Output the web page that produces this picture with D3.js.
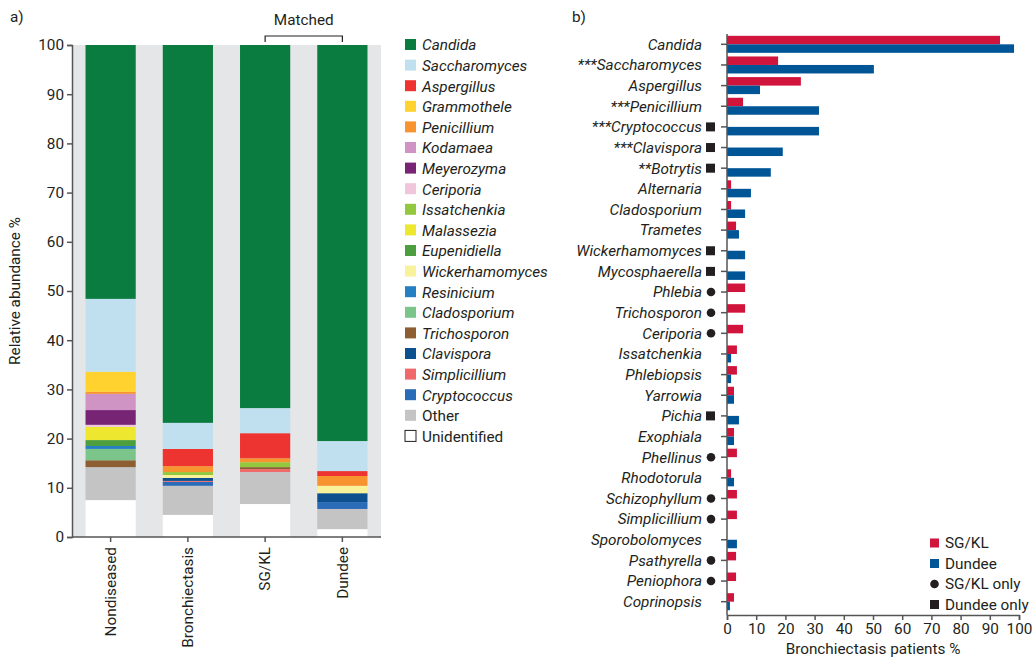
<!DOCTYPE html>
<html><head><meta charset="utf-8">
<script src="https://cdn.jsdelivr.net/npm/d3@7"></script>
<style>body{margin:0;background:#fff}text{font-family:Roboto,"Open Sans",sans-serif;fill:#231f20}</style>
</head><body><svg id="c" width="1032" height="657"></svg>
<script>
const groups=["Nondiseased","Bronchiectasis","SG/KL","Dundee"];
const taxa=["Candida","Saccharomyces","Aspergillus","Grammothele","Penicillium","Kodamaea","Meyerozyma","Ceriporia","Issatchenkia","Malassezia","Eupenidiella","Wickerhamomyces","Resinicium","Cladosporium","Trichosporon","Clavispora","Simplicillium","Cryptococcus","Other","Unidentified"];
const taxaColors=["#0b7c40","#c0e0ef","#ee3430","#ffd22f","#f7942f","#cf93c4","#772475","#f0c6dd","#93c83e","#ede72f","#4c9e3f","#f8f29a","#2580c3","#7bc58a","#8d5e32","#0e4f8e","#f0686a","#2a6cb8","#c3c4c3","#ffffff"];
const nondiseased={Unidentified:7.5,Other:6.7,Trichosporon:1.4,Cladosporium:2.3,Resinicium:0.6,Eupenidiella:1.2,Malassezia:2.7,Ceriporia:0.4,Meyerozyma:3.0,Kodamaea:3.3,Penicillium:0.4,Grammothele:4.1,Saccharomyces:14.8,Candida:51.6};
const bronchiectasis={Unidentified:4.5,Other:5.9,Cryptococcus:0.8,Simplicillium:0.2,Clavispora:0.6,Wickerhamomyces:0.6,Issatchenkia:0.6,Penicillium:1.2,Aspergillus:3.5,Saccharomyces:5.3,Candida:76.8};
const sgkl={Unidentified:6.7,Other:6.5,Simplicillium:0.6,Trichosporon:0.4,Issatchenkia:1.0,Penicillium:0.8,Aspergillus:5.1,Saccharomyces:5.1,Candida:73.8};
const dundee={Unidentified:1.6,Other:4.1,Cryptococcus:1.4,Clavispora:1.8,Wickerhamomyces:1.5,Penicillium:2.0,Aspergillus:1.0,Saccharomyces:6.1,Candida:80.5};
const abund=[nondiseased,bronchiectasis,sgkl,dundee];

const genera=["Candida","***Saccharomyces","Aspergillus","***Penicillium","***Cryptococcus","***Clavispora","**Botrytis","Alternaria","Cladosporium","Trametes","Wickerhamomyces","Mycosphaerella","Phlebia","Trichosporon","Ceriporia","Issatchenkia","Phlebiopsis","Yarrowia","Pichia","Exophiala","Phellinus","Rhodotorula","Schizophyllum","Simplicillium","Sporobolomyces","Psathyrella","Peniophora","Coprinopsis"];
const marks=["","","","","sq","sq","sq","","","","sq","sq","ci","ci","ci","","","","sq","","ci","","ci","ci","","ci","ci",""];
const sgklPct=[93.5,17.5,25.3,5.5,0,0,0,1.4,1.4,3.1,0,0,6.2,6.2,5.5,3.4,3.4,2.4,0,2.4,3.4,1.4,3.4,3.4,0,3.1,3.1,2.4];
const dundeePct=[98.3,50.3,11.3,31.5,31.5,19.1,15.0,8.2,6.2,4.1,6.2,6.2,0,0,0,1.4,1.4,2.4,4.1,2.4,0,2.4,0,0,3.4,0,0,1.0];
const xTicks=d3.range(0,101,10);

const FS=15.3;
const svg=d3.select("#c");
const xa=d3.scaleBand().domain(groups).range([72,381]).paddingInner(0.35).paddingOuter(0.175);
const ya=d3.scaleLinear().domain([0,100]).range([537,45]);
svg.append("rect").attr("x",72).attr("y",45).attr("width",309).attr("height",492).attr("fill","#e5e6e8");
const order=taxa.slice().reverse();
groups.forEach((g,i)=>{let acc=0;order.forEach(t=>{const v=abund[i][t]||0;if(!v)return;
 svg.append("rect").attr("x",xa(g)).attr("width",xa.bandwidth()).attr("y",ya(acc+v)).attr("height",ya(acc)-ya(acc+v)).attr("fill",taxaColors[taxa.indexOf(t)]);acc+=v;});});
const ay=svg.append("g").attr("transform","translate(72,0)").call(d3.axisLeft(ya).ticks(10).tickSize(5));
const ax=svg.append("g").attr("transform","translate(0,537)").call(d3.axisBottom(xa).tickSize(5));
[ay,ax].forEach(a=>{a.selectAll("path,line").attr("stroke","#555").attr("stroke-width",1.5);a.selectAll("text").attr("font-size",FS).attr("fill","#231f20");});
ax.select(".domain").attr("d","M72,0H381");
ax.selectAll("text").attr("transform","rotate(-90)").attr("text-anchor","end").attr("dy","0.35em").attr("x",-10).attr("y",0);
svg.append("text").attr("transform","translate(20,291) rotate(-90)").attr("text-anchor","middle").attr("font-size",FS).text("Relative abundance %");
svg.append("text").attr("x",10).attr("y",22).attr("font-size",FS).text("a)");
const m1=xa("SG/KL")+xa.bandwidth()/2,m2=xa("Dundee")+xa.bandwidth()/2;
svg.append("path").attr("d",`M${m1},42V36H${m2}V42`).attr("fill","none").attr("stroke","#231f20").attr("stroke-width",1.2);
svg.append("text").attr("x",(m1+m2)/2).attr("y",25).attr("text-anchor","middle").attr("font-size",FS).text("Matched");
taxa.forEach((t,i)=>{const y=45+i*20.6;
 svg.append("rect").attr("x",405).attr("y",y-6).attr("width",11).attr("height",11).attr("fill",taxaColors[i]).attr("stroke",t==="Unidentified"?"#231f20":"none");
 svg.append("text").attr("x",422).attr("y",y).attr("dy","0.35em").attr("font-size",FS).attr("font-style",(t==="Other"||t==="Unidentified")?"normal":"italic").text(t);});
const xb=d3.scaleLinear().domain([0,100]).range([727,1019]);
const yb=d3.scaleBand().domain(genera).range([34,612]).padding(0);
const bh=8.5;
genera.forEach((g,i)=>{const c=yb(g)+yb.bandwidth()/2;
 if(sgklPct[i]) svg.append("rect").attr("x",xb(0)).attr("y",c-bh).attr("width",xb(sgklPct[i])-xb(0)).attr("height",bh).attr("fill","#d0143c");
 if(dundeePct[i]) svg.append("rect").attr("x",xb(0)).attr("y",c).attr("width",xb(dundeePct[i])-xb(0)).attr("height",bh).attr("fill","#005596");
 svg.append("line").attr("x1",721).attr("x2",727).attr("y1",c).attr("y2",c).attr("stroke","#555").attr("stroke-width",1.5);
 svg.append("text").attr("x",702).attr("y",c).attr("dy","0.35em").attr("text-anchor","end").attr("font-size",FS).attr("font-style","italic").text(g);
 if(marks[i]==="sq") svg.append("rect").attr("x",706).attr("y",c-4.5).attr("width",9).attr("height",9).attr("fill","#231f20");
 if(marks[i]==="ci") svg.append("circle").attr("cx",711).attr("cy",c).attr("r",4.3).attr("fill","#231f20");
});
svg.append("line").attr("x1",727).attr("x2",727).attr("y1",34).attr("y2",615).attr("stroke","#555").attr("stroke-width",1.5);
const bx=svg.append("g").attr("transform","translate(0,615)").call(d3.axisBottom(xb).tickValues(xTicks).tickSize(5));
bx.selectAll("path,line").attr("stroke","#555").attr("stroke-width",1.5);
bx.selectAll("text").attr("font-size",FS).attr("fill","#231f20");
svg.append("text").attr("x",873).attr("y",654).attr("text-anchor","middle").attr("font-size",FS).text("Bronchiectasis patients %");
svg.append("text").attr("x",572).attr("y",22).attr("font-size",FS).text("b)");
const leg=[["SG/KL","sq","#d0143c"],["Dundee","sq","#005596"],["SG/KL only","ci","#231f20"],["Dundee only","sq","#231f20"]];
leg.forEach((l,i)=>{const y=543+i*20.5;
 if(l[1]==="sq") svg.append("rect").attr("x",930).attr("y",y-4.5).attr("width",9).attr("height",9).attr("fill",l[2]);
 else svg.append("circle").attr("cx",934.5).attr("cy",y).attr("r",4.3).attr("fill",l[2]);
 svg.append("text").attr("x",945).attr("y",y).attr("dy","0.35em").attr("font-size",FS).text(l[0]);});
</script></body></html>
